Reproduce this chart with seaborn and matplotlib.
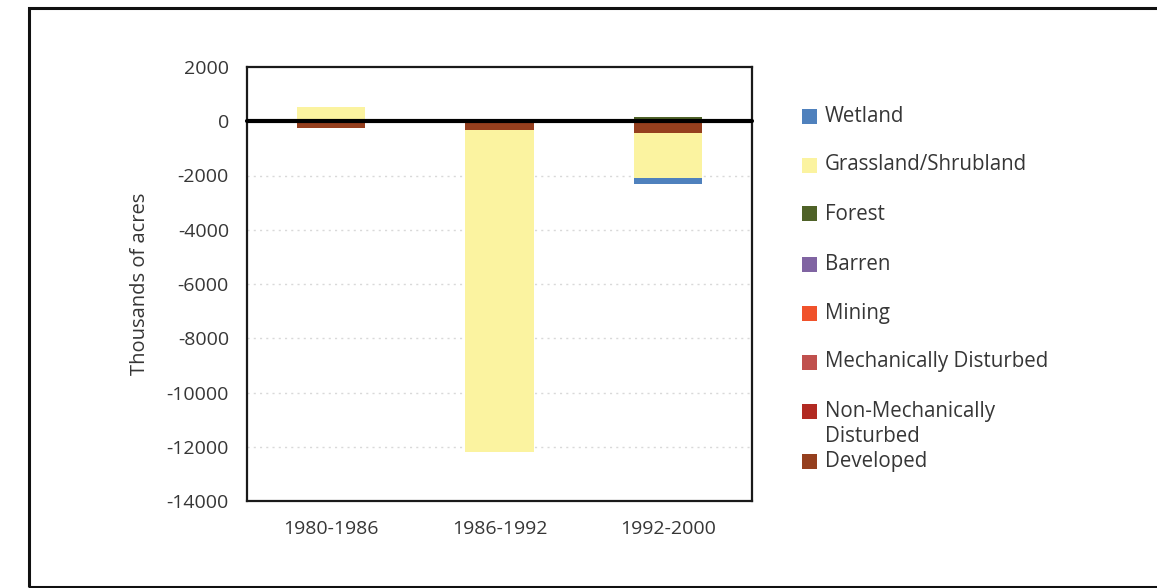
import numpy as np
import pandas as pd
import matplotlib
matplotlib.use("Agg")
import matplotlib.pyplot as plt
from matplotlib.patches import Rectangle
import seaborn as sns

# Net land-cover change per period (thousands of acres)
periods = ["1980-1986", "1986-1992", "1992-2000"]
wetland = [0, 0, -200]
grassland = [540, -11880, -1660]
forest = [0, 0, 150]
barren = [0, 0, 0]
mining = [0, 0, 0]
mech_disturbed = [0, 0, 0]
nonmech_disturbed = [0, 0, 0]
developed = [-235, -320, -440]

legend_labels = ["Wetland", "Grassland/Shrubland", "Forest", "Barren", "Mining",
                 "Mechanically Disturbed", "Non-Mechanically\nDisturbed", "Developed"]
y_ticks = [2000, 0, -2000, -4000, -6000, -8000, -10000, -12000, -14000]

colors = {
    "Wetland": "#4F81BD",
    "Grassland/Shrubland": "#FBF3A0",
    "Forest": "#4F6228",
    "Barren": "#8064A2",
    "Mining": "#F0522B",
    "Mechanically Disturbed": "#C0504D",
    "Non-Mechanically\nDisturbed": "#B22A22",
    "Developed": "#953F1E",
}

series = dict(zip(legend_labels, [wetland, grassland, forest, barren, mining,
                                   mech_disturbed, nonmech_disturbed, developed]))

# stacking order away from zero (nearest first)
stack_order = ["Developed", "Non-Mechanically\nDisturbed", "Mechanically Disturbed",
               "Mining", "Barren", "Forest", "Grassland/Shrubland", "Wetland"]

sns.set_theme(style="white")
plt.rcParams["font.family"] = ["Open Sans", "DejaVu Sans"]

TEXT = "#363636"

fig = plt.figure(figsize=(11.57, 5.88), dpi=100)
ax = fig.add_axes([247 / 1157, 87 / 588, 505 / 1157, 434 / 588])

# cumulative stacks, separately for positive and negative parts
layers = []
pos_base = np.zeros(len(periods))
neg_base = np.zeros(len(periods))
for name in stack_order:
    v = np.array(series[name], dtype=float)
    pos = np.where(v > 0, v, 0)
    neg = np.where(v < 0, v, 0)
    pos_base = pos_base + pos
    neg_base = neg_base + neg
    layers.append((name, pos_base.copy(), neg_base.copy(), np.any(pos > 0), np.any(neg < 0)))

# paint outermost cumulative stacks first, inner ones on top
for name, pos_cum, neg_cum, has_pos, has_neg in reversed(layers):
    for cum, used in ((pos_cum, has_pos), (neg_cum, has_neg)):
        if not used:
            continue
        df = pd.DataFrame({"period": periods, "value": cum})
        sns.barplot(data=df, x="period", y="value", color=colors[name],
                    width=0.405, saturation=1, errorbar=None, ax=ax,
                    linewidth=0, order=periods)

ax.set_xlim(-0.5, 2.5)
ax.set_ylim(-14000, 2000)
ax.set_yticks(y_ticks)
ax.set_yticklabels([str(t) for t in y_ticks])
ax.set_xlabel("")
ax.set_ylabel("Thousands of acres", fontsize=14.5, color=TEXT, labelpad=12)

for t in y_ticks[2:-1]:
    ax.axhline(t, color="#D9D9D9", lw=1.0, ls=(0, (1.5, 3)), zorder=0)
ax.axhline(0, color="black", lw=3, zorder=5, clip_on=False)

ax.tick_params(axis="both", length=0, labelsize=14, labelcolor=TEXT)
ax.tick_params(axis="y", pad=13)
ax.tick_params(axis="x", pad=14)
for s in ax.spines.values():
    s.set_visible(True)
    s.set_color("#1a1a1a")
    s.set_linewidth(1.6)

# legend drawn as swatches + text in figure pixel space
W, H = 1157, 588
legend_y = [116, 165, 214, 264, 313, 362, 411, 461]
for name, yc in zip(legend_labels, legend_y):
    fig.patches.append(Rectangle((802 / W, (H - yc - 7.5) / H), 15 / W, 15 / H,
                                 transform=fig.transFigure, facecolor=colors[name],
                                 edgecolor="none"))
    for i, line in enumerate(name.split("\n")):
        fig.text(825 / W, (H - yc - 26 * i) / H, line, fontsize=14.8, color=TEXT,
                 va="center", ha="left")

# outer frame
fig.patches.append(Rectangle((29 / W, 1 / H), 1.2, (587 - 8) / H,
                             transform=fig.transFigure, fill=False,
                             edgecolor="#111111", linewidth=2.2))

fig.savefig("out.png", dpi=100)
